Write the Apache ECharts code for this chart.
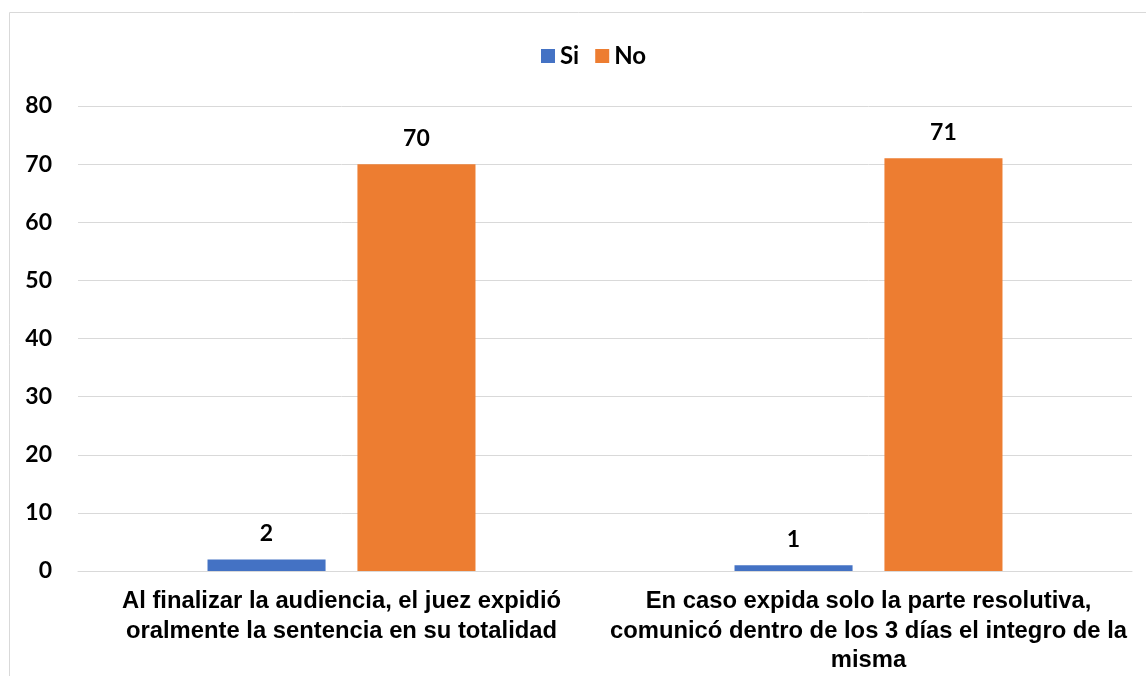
<!DOCTYPE html>
<html>
<head>
<meta charset="utf-8">
<script src="https://cdn.jsdelivr.net/npm/echarts@6/dist/echarts.min.js"></script>
<style>
html,body{margin:0;padding:0;background:#fff;}
#c{width:1146px;height:676px;}
</style>
</head>
<body>
<div id="c"></div>
<script>
var categories = [
  "Al finalizar la audiencia, el juez expidió\noralmente la sentencia en su totalidad",
  "En caso expida solo la parte resolutiva,\ncomunicó dentro de los 3 días el integro de la\nmisma"
];
var siValues = [2, 1];
var noValues = [70, 71];
var seriesNames = ["Si", "No"];

var chart = echarts.init(document.getElementById('c'));
var numFont = 'Lato, "Liberation Sans", sans-serif';
var catFont = '"Liberation Sans", Arial, sans-serif';
chart.setOption({
  animation: false,
  graphic: [{
    type: 'rect', silent: true, z: -10,
    shape: {x: 9.5, y: 12.5, width: 1200, height: 700},
    style: {fill: 'none', stroke: '#d9d9d9', lineWidth: 1}
  }],
  legend: {
    top: 39, left: 536,
    itemWidth: 14, itemHeight: 14, itemGap: 16,
    icon: 'rect',
    textStyle: {fontFamily: numFont, fontWeight: 'bold', fontSize: 24, color: '#000'},
    data: seriesNames
  },
  grid: {left: 78, right: 14, top: 106, bottom: 105, containLabel: false},
  xAxis: {
    type: 'category', data: categories,
    axisLine: {show: true, lineStyle: {color: '#d9d9d9', width: 1}},
    axisTick: {show: false},
    axisLabel: {
      fontFamily: catFont, fontWeight: 'bold', fontSize: 23.8, color: '#000',
      lineHeight: 29.5, margin: 16, interval: 0
    }
  },
  yAxis: {
    type: 'value', min: 0, max: 80, interval: 10,
    axisLine: {show: false}, axisTick: {show: false},
    splitLine: {lineStyle: {color: '#d9d9d9', width: 1}},
    axisLabel: {fontFamily: numFont, fontWeight: 'bold', fontSize: 23, color: '#000', margin: 26}
  },
  series: [
    {
      name: seriesNames[0], type: 'bar', data: siValues,
      barWidth: '22.4%', barGap: '27%',
      itemStyle: {color: '#4472c4'},
      label: {show: true, position: 'top', distance: 14, fontFamily: numFont, fontWeight: 'bold', fontSize: 23, color: '#000'}
    },
    {
      name: seriesNames[1], type: 'bar', data: noValues,
      barWidth: '22.4%', barGap: '27%',
      itemStyle: {color: '#ed7d31'},
      label: {show: true, position: 'top', distance: 14, fontFamily: numFont, fontWeight: 'bold', fontSize: 23, color: '#000'}
    }
  ]
});
</script>
</body>
</html>
